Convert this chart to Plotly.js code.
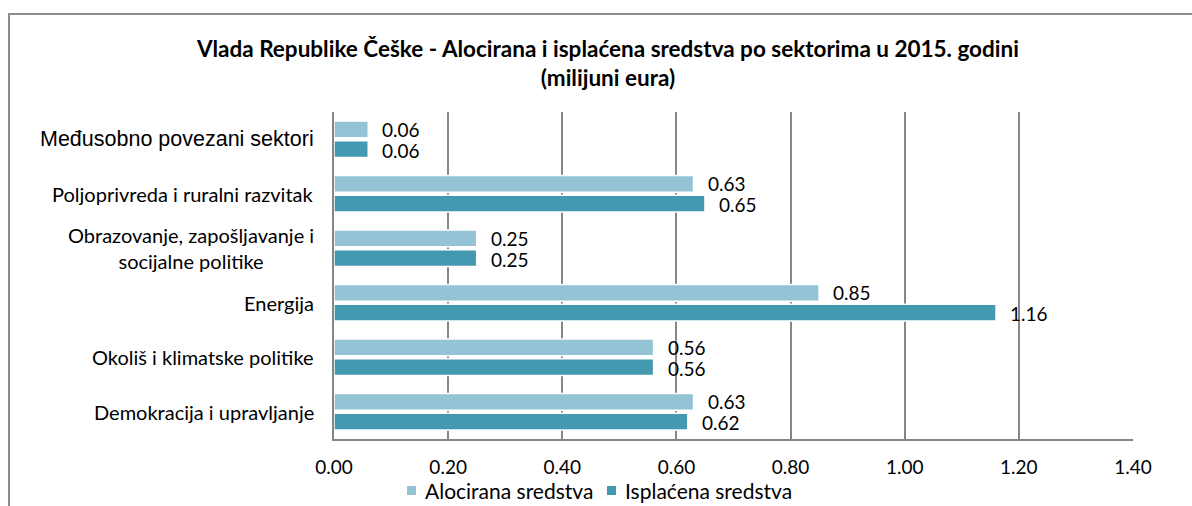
<!DOCTYPE html>
<html>
<head>
<meta charset="utf-8">
<script src="https://cdn.plot.ly/plotly-3.0.1.min.js"></script>
<style>html,body{margin:0;padding:0;background:#fff;}#chart{width:1192px;height:506px;}</style>
</head>
<body>
<div id="chart"></div>
<script>
const categories = [
  "Međusobno povezani sektori",
  "Poljoprivreda i ruralni razvitak",
  "Obrazovanje, zapošljavanje i<br>socijalne politike",
  "Energija",
  "Okoliš i klimatske politike",
  "Demokracija i upravljanje"
];
const seriesNames = ["Alocirana sredstva", "Isplaćena sredstva"];
const alocirana = [0.06, 0.63, 0.25, 0.85, 0.56, 0.63];
const isplacena = [0.06, 0.65, 0.25, 1.16, 0.56, 0.62];
const xTicks = [0, 0.2, 0.4, 0.6, 0.8, 1.0, 1.2, 1.4];

const colors = ["#93C3D5", "#4399B0"];
const numFont = {family: "Lato, sans-serif", size: 19, color: "#000"};

// plot area in pixels: x 334..1133, y 112..439
const L = 334, R = 1133, T = 112, B = 439;
const px = v => (v - L) / (R - L);
const py = v => (B - v) / (B - T);

const traces = [alocirana, isplacena].map((vals, i) => ({
  type: "bar",
  orientation: "h",
  name: seriesNames[i],
  y: categories,
  x: vals,
  marker: {color: colors[i], line: {color: "#ffffff", width: 1.5}},
  hoverinfo: "x+name"
}));

const annotations = [];
[alocirana, isplacena].forEach((vals, i) => {
  vals.forEach((v, j) => {
    annotations.push({
      x: v, y: categories[j], xref: "x", yref: "y",
      text: v.toFixed(2), showarrow: false,
      xanchor: "left", yanchor: "middle",
      xshift: 12, yshift: i === 0 ? 10 : -11,
      font: numFont
    });
  });
});
categories.forEach((c, j) => {
  annotations.push({
    x: 0, y: c, xref: "paper", yref: "y",
    text: c, showarrow: false,
    xanchor: "right", yanchor: "middle", align: "center",
    xshift: -18,
    font: j === 0 ? {family: "Liberation Sans, Arial, sans-serif", size: 21.5, color: "#000"}
                  : {family: "Lato, sans-serif", size: 20, color: "#000"}
  });
});

// custom legend
const legendItems = [{sx: 407, tx: 423}, {sx: 607, tx: 623}];
const shapes = [{
  type: "rect", xref: "paper", yref: "paper", layer: "below",
  x0: px(9), x1: px(1400), y0: py(600), y1: py(14),
  line: {color: "#8c8c8c", width: 2}, fillcolor: "rgba(0,0,0,0)"
}];
seriesNames.forEach((n, i) => {
  const it = legendItems[i];
  shapes.push({
    type: "rect", xref: "paper", yref: "paper",
    x0: px(it.sx), x1: px(it.sx + 9), y0: py(495), y1: py(486),
    line: {width: 0}, fillcolor: colors[i]
  });
  annotations.push({
    x: px(it.tx), y: py(490), xref: "paper", yref: "paper",
    text: n, showarrow: false, xanchor: "left", yanchor: "middle",
    font: {family: "Lato, sans-serif", size: 21, color: "#000"}
  });
});

const layout = {
  width: 1192, height: 506,
  margin: {l: L, r: 1192 - R, t: T, b: 506 - B, autoexpand: false},
  paper_bgcolor: "#fff", plot_bgcolor: "#fff",
  title: {
    text: "Vlada Republike Češke - Alocirana i isplaćena sredstva po sektorima u 2015. godini<br>(milijuni eura)",
    x: 0.51, xanchor: "center", xref: "container",
    y: 1 - 57 / 506, yanchor: "top", yref: "container",
    font: {family: "Lato, sans-serif", size: 22.5, weight: "bold", color: "#000"}
  },
  barmode: "group",
  bargap: 0.28,
  bargroupgap: 0.15,
  xaxis: {
    range: [0, 1.4],
    tickvals: xTicks,
    ticktext: xTicks.map(v => v.toFixed(2)),
    showgrid: true, gridcolor: "#868686", gridwidth: 1.5,
    showline: true, linecolor: "#868686", linewidth: 1.5,
    zeroline: false, ticks: "",
    ticklabelstandoff: 10,
    tickfont: numFont
  },
  yaxis: {
    type: "category",
    autorange: "reversed",
    showticklabels: false,
    showgrid: false, zeroline: false,
    showline: true, linecolor: "#868686", linewidth: 1.5
  },
  showlegend: false,
  annotations: annotations,
  shapes: shapes
};

Plotly.newPlot("chart", traces, layout, {displayModeBar: false, responsive: false});
</script>
</body>
</html>
